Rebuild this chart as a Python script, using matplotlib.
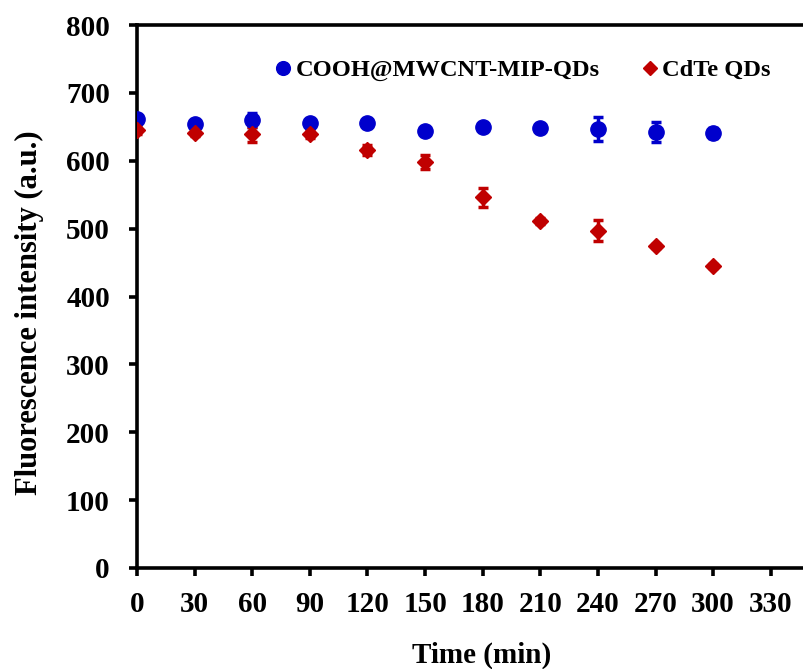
import matplotlib
matplotlib.use("Agg")
import matplotlib.pyplot as plt

# Time points (min)
time_min = [0, 30, 60, 90, 120, 150, 180, 210, 240, 270, 300]

# COOH@MWCNT-MIP-QDs fluorescence intensity and standard deviation
mip_qds = [661, 654, 660, 656, 656, 644, 650, 648, 647, 642, 641]
mip_err = [5, 4, 10, 4, 4, 4, 4, 4, 18, 15, 7]

# CdTe QDs fluorescence intensity and standard deviation
cdte_qds = [645, 641, 639, 639, 616, 598, 546, 511, 497, 475, 445]
cdte_err = [5, 4, 11, 6, 7, 10, 14, 4, 15, 3, 3]

x_ticks = [0, 30, 60, 90, 120, 150, 180, 210, 240, 270, 300, 330]
y_ticks = [0, 100, 200, 300, 400, 500, 600, 700, 800]

plt.rcParams["font.family"] = ["Liberation Serif", "DejaVu Serif"]
plt.rcParams["font.weight"] = "bold"

fig = plt.figure(figsize=(8.04, 6.69), dpi=100)
ax = fig.add_axes([0.1704, 0.151, 0.836, 0.8116])

blue = "#0000CC"
red = "#C00000"

ax.errorbar(time_min, mip_qds, yerr=mip_err, fmt="o", color=blue, ms=11,
            ecolor=blue, elinewidth=2.5, capsize=3.5, capthick=2.5,
            label="COOH@MWCNT-MIP-QDs", zorder=3)
ax.errorbar(time_min, cdte_qds, yerr=cdte_err, fmt="D", color=red, ms=8,
            ecolor=red, elinewidth=2.5, capsize=3.5, capthick=2.5,
            label="CdTe QDs", zorder=3)

ax.set_xlim(0, 350)
ax.set_ylim(0, 800)
ax.set_xticks(x_ticks)
ax.set_yticks(y_ticks)

for side in ["left", "bottom", "top", "right"]:
    ax.spines[side].set_linewidth(2.6)

ax.tick_params(axis="both", direction="out", length=5.5, width=2.6,
               labelsize=21)
ax.tick_params(axis="x", pad=11)
ax.tick_params(axis="y", pad=14)
for lab in ax.get_xticklabels() + ax.get_yticklabels():
    lab.set_fontweight("bold")

ax.set_xlabel("Time (min)", fontsize=21, fontweight="bold", labelpad=17)
ax.xaxis.label.set_x(0.512)
ax.set_ylabel("Fluorescence intensity (a.u.)", fontsize=22,
              fontweight="bold", labelpad=16)
ax.yaxis.label.set_y(0.47)

handles, labels = ax.get_legend_handles_labels()
handles = [h[0] for h in handles]
leg = ax.legend(handles, labels, ncol=2, frameon=False, loc="center left",
                bbox_to_anchor=(0.208, 0.917), handlelength=0.5,
                handletextpad=0.26, columnspacing=1.8, borderpad=0,
                borderaxespad=0, markerscale=0.9,
                prop={"size": 17.6, "weight": "bold"})

fig.savefig("out.png", dpi=100)
